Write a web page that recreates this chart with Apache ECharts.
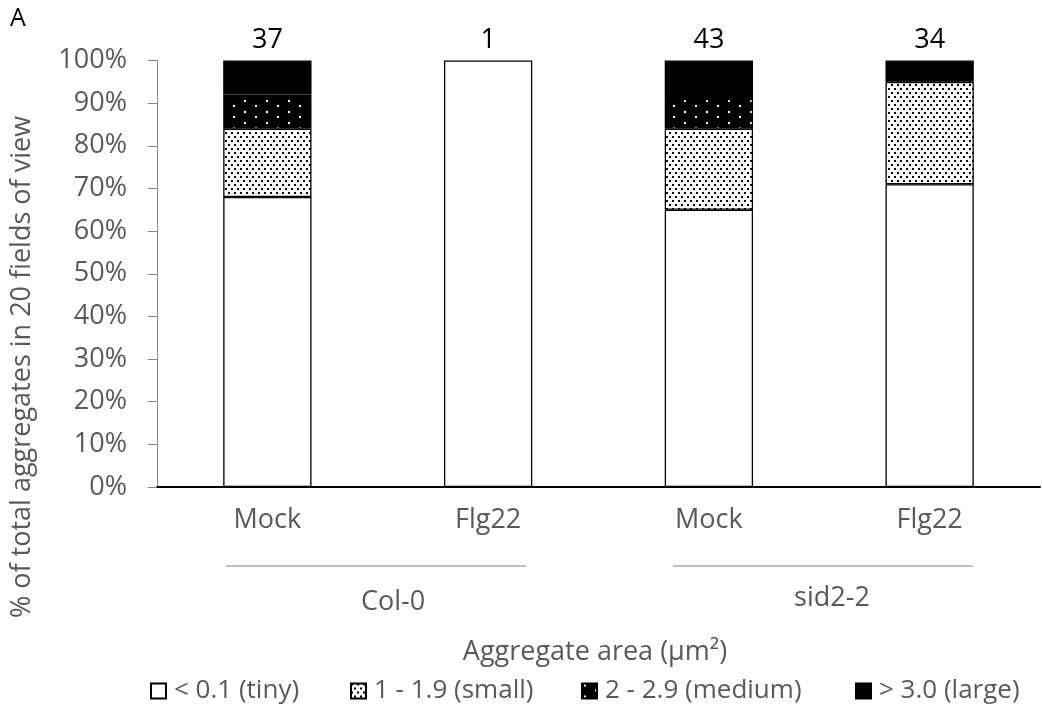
<!DOCTYPE html>
<html>
<head>
<meta charset="utf-8">
<script src="https://cdn.jsdelivr.net/npm/echarts@6/dist/echarts.min.js"></script>
<style>
  html, body { margin: 0; padding: 0; background: #fff; }
  #chart { width: 1042px; height: 713px; }
</style>
</head>
<body>
<div id="chart"></div>
<script>
// Aggregate size distribution per treatment (percent of all aggregates)
const categories = ['Mock', 'Flg22', 'Mock', 'Flg22'];
const groups = ['Col-0', 'sid2-2'];
const totals = [37, 1, 43, 34];           // number of aggregates counted
const tiny   = [68, 100, 65, 71];
const small  = [16, 0, 19, 24];
const medium = [8, 0, 7, 0];
const large  = [8, 0, 9, 5];
const sizeNames = ['< 0.1 (tiny)', '1 - 1.9 (small)', '2 - 2.9 (medium)', '> 3.0 (large)'];

const FONT = '"Open Sans", Lato, sans-serif';
const GREY = '#595959';

// Fill patterns: black dots on white, and white dots on black
function dotPattern(w, h, bg, fg, dots) {
  const c = document.createElement('canvas');
  c.width = w; c.height = h;
  const g = c.getContext('2d');
  g.fillStyle = bg; g.fillRect(0, 0, w, h);
  g.fillStyle = fg;
  dots.forEach(d => g.fillRect(d[0], d[1], d[2], d[2]));
  return { image: c, repeat: 'repeat' };
}
const smallFill  = dotPattern(6, 8, '#ffffff', '#000000', [[0, 0, 2], [3, 4, 2]]);
const mediumFill = dotPattern(22, 11, '#000000', '#ffffff', [[2, 1, 2], [13, 6, 2]]);

// Empty segments get no outline so they leave no stray line in the stack
function items(values) {
  return values.map(v => v === 0 ? { value: 0, itemStyle: { borderWidth: 0 } } : v);
}

function barSeries(name, values, color, withTotals) {
  const s = {
    name: name,
    type: 'bar',
    stack: 'all',
    barWidth: '40%',
    data: items(values),
    itemStyle: { color: color, borderColor: '#000', borderWidth: 1.3 },
    emphasis: { disabled: true }
  };
  if (withTotals) {
    s.label = {
      show: true,
      position: 'top',
      distance: 7,
      color: '#000',
      fontFamily: FONT,
      fontSize: 27,
      formatter: p => String(totals[p.dataIndex])
    };
  }
  return s;
}

// One legend block per size class, spread across the bottom row
const legendLefts = [150, 350, 581, 855];
const legends = sizeNames.map((n, i) => ({
  left: legendLefts[i], top: 678,
  padding: 0,
  itemWidth: 15, itemHeight: 15,
  icon: 'rect',
  textStyle: { color: GREY, fontFamily: FONT, fontSize: 26, padding: [0, 0, 0, 3] },
  data: [n]
}));

const chart = echarts.init(document.getElementById('chart'), null, { renderer: 'canvas' });

chart.setOption({
  animation: false,
  backgroundColor: '#fff',
  grid: { left: 157, right: 2, top: 60.5, bottom: 226, containLabel: false },
  xAxis: {
    type: 'category',
    data: categories,
    axisLine: { lineStyle: { color: '#000', width: 2 } },
    axisTick: { show: false },
    axisLabel: { color: GREY, fontFamily: FONT, fontSize: 27, margin: 20 }
  },
  yAxis: {
    type: 'value',
    min: 0, max: 100, interval: 10,
    axisLine: { show: true, lineStyle: { color: '#868686', width: 1 } },
    axisTick: { show: true, length: 9, lineStyle: { color: '#868686' } },
    splitLine: { show: false },
    axisLabel: { color: GREY, fontFamily: FONT, fontSize: 27, margin: 30, formatter: '{value}%' }
  },
  legend: legends,
  series: [
    barSeries(sizeNames[0], tiny, '#ffffff', false),
    barSeries(sizeNames[1], small, smallFill, false),
    barSeries(sizeNames[2], medium, mediumFill, false),
    barSeries(sizeNames[3], large, '#000000', true)
  ],
  graphic: [
    { type: 'text', left: 10, top: 6,
      style: { text: 'A', fill: '#000', font: '25px ' + FONT } },
    { type: 'text', x: 22, y: 367, rotation: Math.PI / 2,
      style: { text: '% of total aggregates in 20 fields of view', fill: GREY,
               font: '27px ' + FONT, align: 'center', verticalAlign: 'middle' } },
    { type: 'line', shape: { x1: 226, y1: 566, x2: 526, y2: 566 },
      style: { stroke: '#7f7f7f', lineWidth: 1 } },
    { type: 'line', shape: { x1: 673, y1: 566, x2: 973, y2: 566 },
      style: { stroke: '#7f7f7f', lineWidth: 1 } },
    { type: 'text', x: 393, y: 602,
      style: { text: groups[0], fill: GREY, font: '27px ' + FONT, align: 'center', verticalAlign: 'middle' } },
    { type: 'text', x: 832, y: 598,
      style: { text: groups[1], fill: GREY, font: '27px ' + FONT, align: 'center', verticalAlign: 'middle' } },
    { type: 'text', x: 595, y: 652,
      style: { text: 'Aggregate area (μm²)', fill: GREY, font: '27px ' + FONT, align: 'center', verticalAlign: 'middle' } }
  ]
});
</script>
</body>
</html>
